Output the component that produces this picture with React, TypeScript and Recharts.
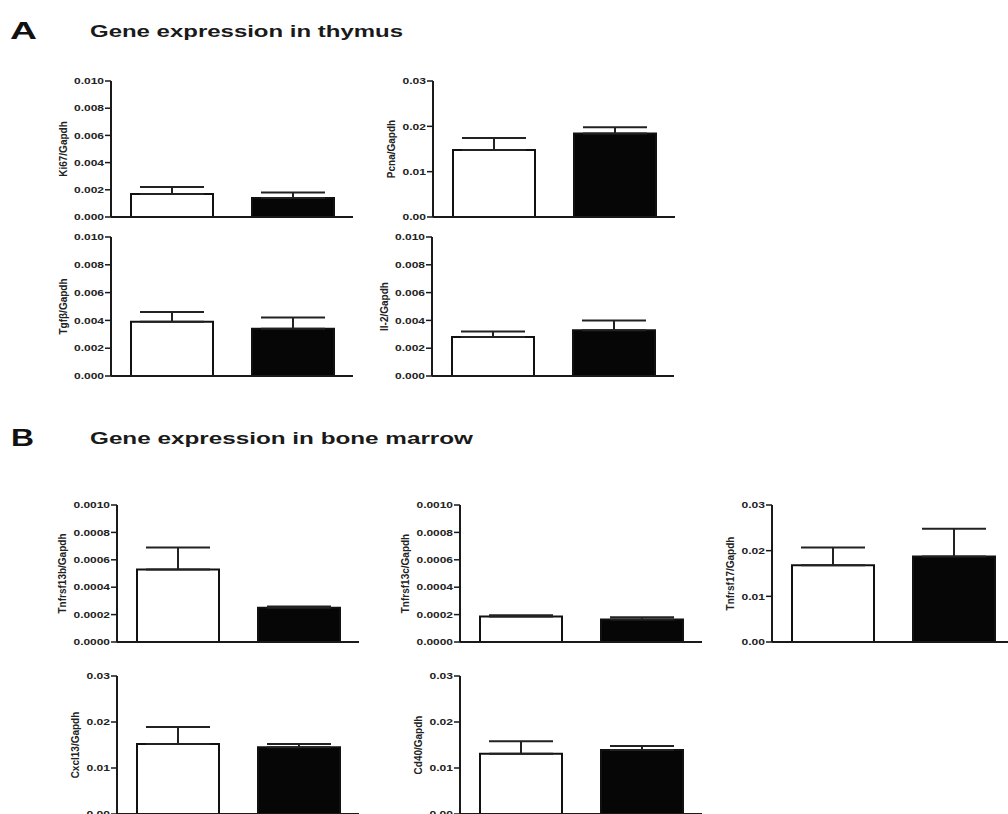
import { BarChart, Bar, XAxis, YAxis, ErrorBar, Cell } from 'recharts'

// two groups per panel: open bar, filled bar
const groups = ['Control', 'Treated']
const barFills = ['#ffffff', '#060606']

// panel A: thymus
const ki67 = [0.0017, 0.0014]
const ki67Err = [0.0005, 0.0004]
const pcna = [0.0148, 0.0184]
const pcnaErr = [0.0026, 0.0014]
const tgfb = [0.0039, 0.0034]
const tgfbErr = [0.0007, 0.0008]
const il2 = [0.0028, 0.0033]
const il2Err = [0.0004, 0.0007]

// panel B: bone marrow
const tnfrsf13b = [0.00053, 0.00025]
const tnfrsf13bErr = [0.00016, 0.00001]
const tnfrsf13c = [0.000186, 0.000165]
const tnfrsf13cErr = [0.00001, 0.000015]
const tnfrsf17 = [0.0168, 0.0187]
const tnfrsf17Err = [0.0039, 0.0061]
const cxcl13 = [0.0152, 0.0145]
const cxcl13Err = [0.0037, 0.0007]
const cd40 = [0.0131, 0.0139]
const cd40Err = [0.0027, 0.0009]

// y tick sets
const ticksSmall = [0, 0.002, 0.004, 0.006, 0.008, 0.01]
const ticksLarge = [0, 0.01, 0.02, 0.03]
const ticksTiny = [0, 0.0002, 0.0004, 0.0006, 0.0008, 0.001]

const FONT = "'Liberation Sans', Arial, sans-serif"
const INK = '#1a1a1a'

const Y_W = 80
const MT = 8
const MR = 8
const PLOT_W = 242
const X_H = 16

const makeRows = (vals: number[], errs: number[]) =>
  groups.map((g, i) => ({ group: g, value: vals[i], err: [0, errs[i]] }))

const tickWidth = (text: string) => text.replace('.', '').length * 6.5 + 4

const YTick = (props: any) => {
  const { x, y, payload, decimals } = props
  const text = Number(payload.value).toFixed(decimals)
  return (
    <text
      x={x}
      y={y}
      dy={3.2}
      textAnchor="end"
      fontSize={8.5}
      fontWeight={700}
      fontFamily={FONT}
      fill="#222"
      textLength={tickWidth(text)}
      lengthAdjust="spacingAndGlyphs"
    >
      {text}
    </text>
  )
}

interface PanelProps {
  axisX: number
  topY: number
  plotH: number
  label: string
  rows: { group: string; value: number; err: number[] }[]
  ticks: number[]
  decimals: number
}

function Panel({ axisX, topY, plotH, label, rows, ticks, decimals }: PanelProps) {
  const maxTick = ticks[ticks.length - 1]
  const labelDist = 7 + tickWidth(maxTick.toFixed(decimals)) + 11
  return (
    <div style={{ position: 'absolute', left: axisX - Y_W, top: topY - MT }}>
      <BarChart
        width={Y_W + PLOT_W + MR}
        height={MT + plotH + X_H}
        data={rows}
        margin={{ top: MT, right: MR, left: 0, bottom: 0 }}
      >
        <XAxis
          dataKey="group"
          height={X_H}
          tick={false}
          tickSize={5}
          axisLine={{ stroke: INK, strokeWidth: 2 }}
          tickLine={{ stroke: INK, strokeWidth: 1.5 }}
        />
        <YAxis
          width={Y_W}
          domain={[0, maxTick]}
          ticks={ticks}
          interval={0}
          tickSize={6}
          tickMargin={1}
          axisLine={{ stroke: INK, strokeWidth: 2 }}
          tickLine={{ stroke: INK, strokeWidth: 1.5 }}
          tick={(p: any) => <YTick {...p} decimals={decimals} />}
          label={{
            value: label,
            angle: -90,
            position: 'insideLeft',
            offset: Y_W - labelDist,
            style: { textAnchor: 'middle', fontSize: 10, fontWeight: 700, fontFamily: FONT, fill: '#222' },
          }}
        />
        <Bar dataKey="value" barSize={82} stroke="#111" strokeWidth={2} isAnimationActive={false}>
          {rows.map((r, i) => (
            <Cell key={r.group} fill={barFills[i]} />
          ))}
          <ErrorBar dataKey="err" direction="y" width={32} stroke="#222" strokeWidth={2} isAnimationActive={false} />
        </Bar>
      </BarChart>
    </div>
  )
}

export default function App() {
  return (
    <div
      style={{
        position: 'absolute',
        left: 0,
        top: 0,
        width: 1008,
        height: 814,
        overflow: 'hidden',
        background: '#fff',
      }}
    >
      <svg width={1008} height={814} style={{ position: 'absolute', left: 0, top: 0 }}>
        <text x={10} y={39} fontSize={24} fontWeight={700} fontFamily={FONT} fill="#111" textLength={27} lengthAdjust="spacingAndGlyphs">
          A
        </text>
        <text x={90} y={37} fontSize={16} fontWeight={700} fontFamily={FONT} fill="#1a1a1a" textLength={313} lengthAdjust="spacingAndGlyphs">
          Gene expression in thymus
        </text>
        <text x={11} y={446} fontSize={24} fontWeight={700} fontFamily={FONT} fill="#111" textLength={23} lengthAdjust="spacingAndGlyphs">
          B
        </text>
        <text x={90} y={444} fontSize={16} fontWeight={700} fontFamily={FONT} fill="#1a1a1a" textLength={383} lengthAdjust="spacingAndGlyphs">
          Gene expression in bone marrow
        </text>
      </svg>

      <Panel axisX={111} topY={81} plotH={136} label="Ki67/Gapdh" rows={makeRows(ki67, ki67Err)} ticks={ticksSmall} decimals={3} />
      <Panel axisX={433} topY={81} plotH={136} label="Pcna/Gapdh" rows={makeRows(pcna, pcnaErr)} ticks={ticksLarge} decimals={2} />
      <Panel axisX={111} topY={237} plotH={139} label="Tgfβ/Gapdh" rows={makeRows(tgfb, tgfbErr)} ticks={ticksSmall} decimals={3} />
      <Panel axisX={432} topY={237} plotH={139} label="Il-2/Gapdh" rows={makeRows(il2, il2Err)} ticks={ticksSmall} decimals={3} />

      <Panel axisX={117} topY={505} plotH={137} label="Tnfrsf13b/Gapdh" rows={makeRows(tnfrsf13b, tnfrsf13bErr)} ticks={ticksTiny} decimals={4} />
      <Panel axisX={460} topY={505} plotH={137} label="Tnfrsf13c/Gapdh" rows={makeRows(tnfrsf13c, tnfrsf13cErr)} ticks={ticksTiny} decimals={4} />
      <Panel axisX={772} topY={505} plotH={137} label="Tnfrsf17/Gapdh" rows={makeRows(tnfrsf17, tnfrsf17Err)} ticks={ticksLarge} decimals={2} />
      <Panel axisX={117} topY={676} plotH={138} label="Cxcl13/Gapdh" rows={makeRows(cxcl13, cxcl13Err)} ticks={ticksLarge} decimals={2} />
      <Panel axisX={460} topY={676} plotH={138} label="Cd40/Gapdh" rows={makeRows(cd40, cd40Err)} ticks={ticksLarge} decimals={2} />
    </div>
  )
}
